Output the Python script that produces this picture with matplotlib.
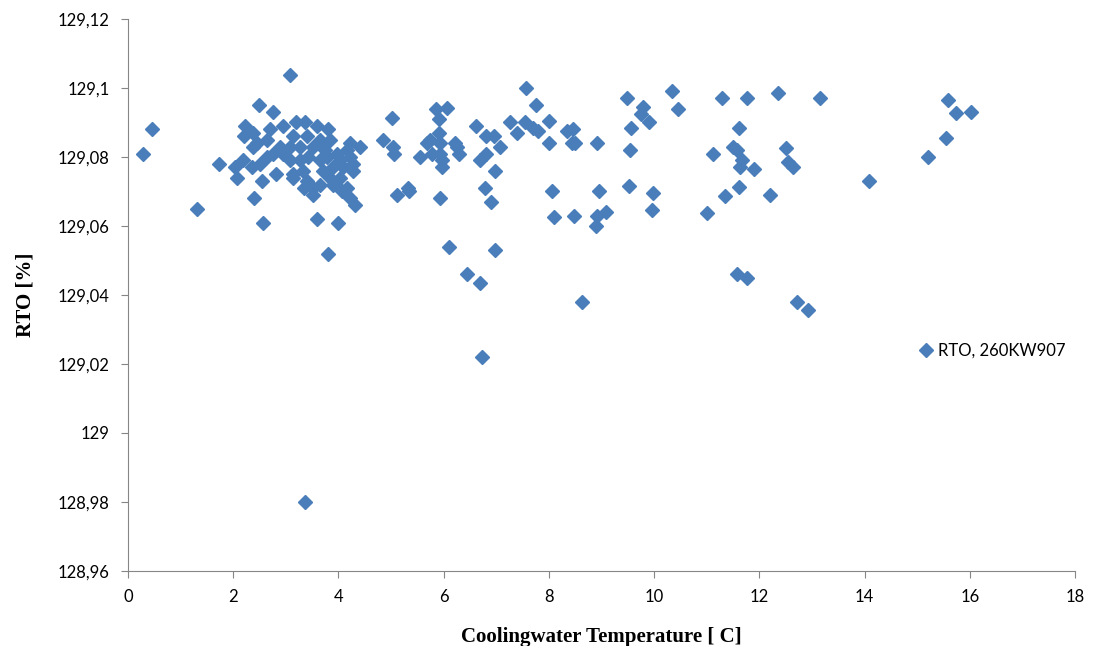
import matplotlib
matplotlib.use("Agg")
import matplotlib.pyplot as plt
from matplotlib.ticker import MultipleLocator, FuncFormatter

# Cooling water temperature [C] and RTO [%]
temperature = [
    0.29, 0.46, 1.31, 1.74, 2.49, 2.76, 2.57, 2.39, 2.08, 2.03,
    2.22, 2.20, 2.38, 2.38, 2.55, 2.81, 3.59, 4.00, 3.80, 3.52,
    3.35, 3.14, 4.07, 4.32, 4.22, 4.41, 4.22, 4.28, 2.70, 2.95,
    3.20, 3.36, 3.59, 3.80, 3.14, 3.40, 3.65, 3.84, 2.89, 3.08,
    3.27, 3.52, 3.75, 3.97, 4.16, 2.76, 2.64, 2.51, 2.36, 2.19,
    2.95, 3.08, 3.27, 3.42, 3.65, 3.78, 4.03, 4.22, 3.90, 3.71,
    4.09, 4.28, 3.33, 3.14, 3.84, 4.03, 3.65, 3.52, 3.90, 4.16,
    3.40, 2.64, 2.45, 3.08, 3.37,
    5.02, 4.85, 5.04, 5.06, 5.11, 5.32, 5.34, 5.86, 6.06, 5.91,
    5.91, 5.74, 5.68, 5.93, 6.22, 6.25, 6.29, 5.55, 5.78, 5.93,
    5.97, 5.97, 5.93, 6.62, 6.81, 6.96, 7.07, 6.81, 6.69, 6.98,
    6.79, 6.90, 6.10, 6.98, 6.44, 6.69, 6.73,
    7.57, 7.76, 7.26, 7.55, 7.70, 7.80, 7.40, 8.00, 8.00, 8.35,
    8.46, 8.44, 8.50, 8.92, 8.06, 8.10, 8.48, 8.95, 8.92, 9.09,
    8.90, 8.64,
    9.49, 9.79, 9.75, 9.90, 9.56, 9.54, 9.52, 9.98, 9.96, 10.34,
    10.46, 11.29, 11.77, 12.36, 13.16, 11.62, 11.12, 11.50, 11.58, 11.67,
    11.63, 11.90, 11.62, 11.35, 11.00, 12.20, 12.50, 12.55, 12.64, 11.58,
    11.77, 12.72, 12.93, 14.09,
    15.59, 15.74, 16.03, 15.55, 15.21,
]
rto = [
    129.081, 129.088, 129.065, 129.078, 129.095, 129.093, 129.061, 129.068, 129.074, 129.077,
    129.089, 129.086, 129.087, 129.083, 129.073, 129.075, 129.062, 129.061, 129.052, 129.069,
    129.071, 129.074, 129.070, 129.066, 129.068, 129.083, 129.084, 129.076, 129.088, 129.089,
    129.090, 129.090, 129.089, 129.088, 129.086, 129.086, 129.085, 129.085, 129.083, 129.083,
    129.083, 129.083, 129.082, 129.081, 129.082, 129.081, 129.080, 129.078, 129.077, 129.079,
    129.081, 129.079, 129.079, 129.080, 129.079, 129.080, 129.079, 129.080, 129.077, 129.076,
    129.077, 129.078, 129.076, 129.075, 129.074, 129.074, 129.072, 129.071, 129.072, 129.071,
    129.073, 129.085, 129.084, 129.1038, 128.980,
    129.0913, 129.085, 129.083, 129.081, 129.069, 129.071, 129.070, 129.094, 129.0942, 129.091,
    129.087, 129.085, 129.084, 129.084, 129.084, 129.083, 129.081, 129.080, 129.081, 129.081,
    129.079, 129.077, 129.068, 129.089, 129.086, 129.086, 129.083, 129.081, 129.079, 129.076,
    129.071, 129.067, 129.054, 129.053, 129.046, 129.0435, 129.022,
    129.100, 129.095, 129.090, 129.090, 129.0884, 129.0875, 129.087, 129.0905, 129.084, 129.0875,
    129.088, 129.084, 129.084, 129.084, 129.070, 129.0626, 129.063, 129.070, 129.063, 129.064,
    129.060, 129.038,
    129.097, 129.0945, 129.0925, 129.090, 129.0884, 129.082, 129.0716, 129.0696, 129.0646, 129.099,
    129.094, 129.097, 129.097, 129.0985, 129.097, 129.0884, 129.081, 129.083, 129.082, 129.079,
    129.077, 129.0765, 129.0713, 129.0687, 129.0638, 129.069, 129.0826, 129.0786, 129.077, 129.046,
    129.045, 129.038, 129.0357, 129.073,
    129.0965, 129.0928, 129.093, 129.0855, 129.080,
]

fig = plt.figure(figsize=(10.93, 6.46), dpi=100)
ax = fig.add_axes([0.117, 0.1161, 0.8665, 0.8545])

ax.plot(temperature, rto, linestyle="none", marker="D", markersize=7.5,
        color="#4A7EBB", markeredgecolor="#4A7EBB", label="RTO, 260KW907")

ax.set_xlim(0, 18)
ax.set_ylim(128.96, 129.12)
ax.xaxis.set_major_locator(MultipleLocator(2))
ax.yaxis.set_major_locator(MultipleLocator(0.02))
ax.yaxis.set_major_formatter(FuncFormatter(lambda v, p: f"{round(v, 2):g}".replace(".", ",")))

for s in ["top", "right"]:
    ax.spines[s].set_visible(False)
for s in ["left", "bottom"]:
    ax.spines[s].set_color("#868686")
ax.tick_params(direction="out", length=5, color="#868686", labelsize=12, pad=8)
for lbl in ax.get_xticklabels() + ax.get_yticklabels():
    lbl.set_family("Lato")

ax.set_xlabel("Coolingwater Temperature [ C]", family="Liberation Serif",
              fontweight="bold", fontsize=15, labelpad=16)
ax.set_ylabel("RTO [%]", family="Liberation Serif", fontweight="bold",
              fontsize=15, labelpad=16)

ax.legend(loc="center left", bbox_to_anchor=(0.818, 0.399), frameon=False,
          prop={"family": "Lato", "size": 12}, handletextpad=0.2,
          handlelength=1.0, markerscale=0.9)

fig.savefig("out.png", dpi=100)
